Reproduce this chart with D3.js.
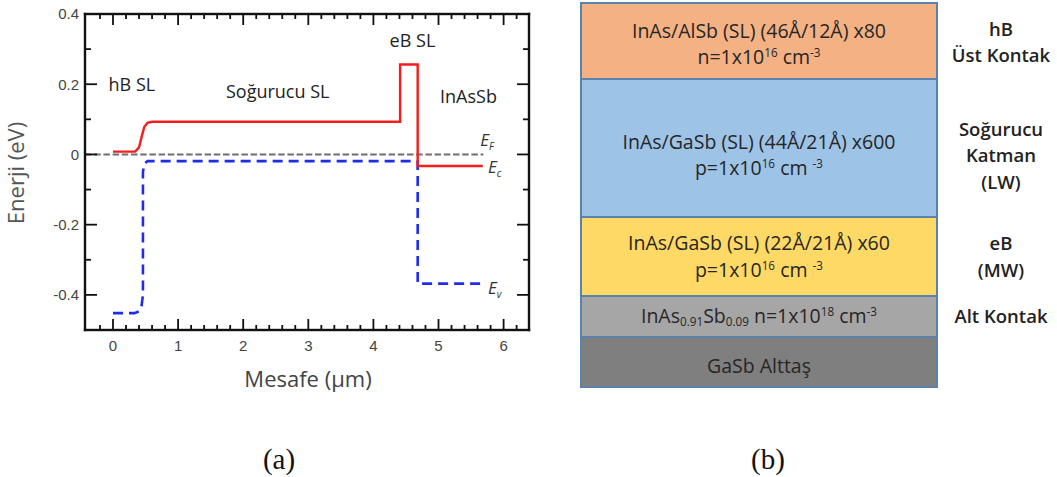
<!DOCTYPE html>
<html>
<head>
<meta charset="utf-8">
<script src="https://cdn.jsdelivr.net/npm/d3@7"></script>
<style>
  body { margin: 0; background: #fff; }
  svg { display: block; }
</style>
</head>
<body>
<svg id="fig" width="1057" height="477"></svg>
<script>
// ---------- (a) band diagram data: position (µm) vs energy (eV) ----------
const ecPoints = [
  [0, 0.008], [0.34, 0.008], [0.40, 0.02], [0.44, 0.05], [0.48, 0.078],
  [0.53, 0.09], [0.60, 0.093], [4.41, 0.093], [4.41, 0.256], [4.68, 0.256],
  [4.68, -0.033], [5.68, -0.033]
];
const evPoints = [
  [0, -0.452], [0.33, -0.452], [0.40, -0.447], [0.44, -0.43], [0.46, -0.40],
  [0.46, -0.05], [0.48, -0.027], [0.53, -0.019], [4.68, -0.019],
  [4.68, -0.368], [5.69, -0.368]
];
const efPoints = [[-0.43, 0], [5.69, 0]];

const xMajorTicks = [0, 1, 2, 3, 4, 5, 6];
const xMinorTicks = [-0.2, 0.2, 0.4, 0.6, 0.8, 1.2, 1.4, 1.6, 1.8, 2.2, 2.4, 2.6, 2.8,
                     3.2, 3.4, 3.6, 3.8, 4.2, 4.4, 4.6, 4.8, 5.2, 5.4, 5.6, 5.8, 6.2];
const yMajorTicks = [-0.4, -0.2, 0, 0.2, 0.4];
const yMinorTicks = [-0.3, -0.1, 0.1, 0.3];

const regionNames = ["hB SL", "Soğurucu SL", "eB SL", "InAsSb"];
const bandNames = [["E", "F"], ["E", "c"], ["E", "v"]];

// ---------- (b) layer stack ----------
const layerLines = [
  ["InAs/AlSb (SL) (46Å/12Å) x80", "n=1x10^{16} cm^{-3}"],
  ["InAs/GaSb (SL) (44Å/21Å) x600", "p=1x10^{16} cm ^{-3}"],
  ["InAs/GaSb (SL) (22Å/21Å) x60", "p=1x10^{16} cm ^{-3}"],
  ["InAs_{0.91}Sb_{0.09}  n=1x10^{18} cm^{-3}"],
  ["GaSb Alttaş"]
];
const layerRoles = [
  ["hB", "Üst Kontak"],
  ["Soğurucu", "Katman", "(LW)"],
  ["eB", "(MW)"],
  ["Alt Kontak"],
  []
];
const captions = ["(a)", "(b)"];

// ---------- drawing ----------
const svg = d3.select("#fig");

const plot = { left: 85, right: 529, top: 14, bottom: 330 };
const x = d3.scaleLinear().domain([-0.43, 6.39]).range([plot.left, plot.right]);
const y = d3.scaleLinear().domain([-0.5, 0.4]).range([plot.bottom, plot.top]);

const tickFont = "'Liberation Sans', Arial, sans-serif";
const labelFont = "'Open Sans', sans-serif";

// tick labels
svg.append("g").selectAll("text").data(xMajorTicks).join("text")
  .attr("x", d => x(d)).attr("y", plot.bottom + 21)
  .attr("text-anchor", "middle")
  .attr("font-family", tickFont).attr("font-size", 15).attr("fill", "#444")
  .text(d => d3.format("d")(d));
const fmtY = d => d === 0 ? "0" : d.toFixed(1);
svg.append("g").selectAll("text").data(yMajorTicks).join("text")
  .attr("x", plot.left - 6).attr("y", d => y(d)).attr("dy", "0.36em")
  .attr("text-anchor", "end")
  .attr("font-family", tickFont).attr("font-size", 15).attr("fill", "#444")
  .text(fmtY);

const line = d3.line().x(d => x(d[0])).y(d => y(d[1]));

// Fermi level
svg.append("path").attr("d", line(efPoints))
  .attr("fill", "none").attr("stroke", "#6e6e6e").attr("stroke-width", 2)
  .attr("stroke-dasharray", "6.5,2.7");
// valence band edge
svg.append("path").attr("d", line(evPoints))
  .attr("fill", "none").attr("stroke", "#1f2cf0").attr("stroke-width", 2.6)
  .attr("stroke-dasharray", "10,6");
// conduction band edge
svg.append("path").attr("d", line(ecPoints))
  .attr("fill", "none").attr("stroke", "#f51c1c").attr("stroke-width", 2.4);

// region labels
const regionAnchor = [[0.29, 0.2], [2.53, 0.18], [4.6, 0.325], [5.46, 0.165]];
svg.append("g").selectAll("text").data(regionNames).join("text")
  .attr("x", (d, i) => x(regionAnchor[i][0]))
  .attr("y", (d, i) => y(regionAnchor[i][1]))
  .attr("dy", "0.35em")
  .attr("text-anchor", "middle")
  .attr("font-family", labelFont).attr("font-size", 18).attr("fill", "#222")
  .text(d => d);

// band labels
const bandAnchor = [[5.64, 0.023], [5.76, -0.052], [5.76, -0.397]];
bandNames.forEach((b, i) => {
  const t = svg.append("text")
    .attr("x", x(bandAnchor[i][0])).attr("y", y(bandAnchor[i][1]))
    .attr("font-family", labelFont).attr("font-size", 17)
    .attr("font-style", "italic").attr("fill", "#333");
  t.append("tspan").text(b[0]);
  t.append("tspan").attr("dy", 4).attr("font-size", 10).text(b[1]);
});

// axis titles
svg.append("text")
  .attr("transform", `translate(24,${(plot.top + plot.bottom) / 2 + 1}) rotate(-90)`)
  .attr("text-anchor", "middle")
  .attr("font-family", labelFont).attr("font-size", 22).attr("fill", "#555")
  .text("Enerji (eV)");
svg.append("text")
  .attr("x", (plot.left + plot.right) / 2 + 1).attr("y", 387)
  .attr("text-anchor", "middle")
  .attr("font-family", labelFont).attr("font-size", 22).attr("fill", "#444")
  .text("Mesafe (µm)");

// frame and inward ticks on all four sides, drawn as filled bars on top
const frame = svg.append("g").attr("fill", "#111");
const fw = 2.4, tw = 1.8;
function bar(x0, y0, w, h) {
  frame.append("rect").attr("x", x0).attr("y", y0).attr("width", w).attr("height", h);
}
bar(plot.left - fw / 2, plot.top - fw / 2, plot.right - plot.left + fw, fw);
bar(plot.left - fw / 2, plot.bottom - fw / 2, plot.right - plot.left + fw, fw);
bar(plot.left - fw / 2, plot.top - fw / 2, fw, plot.bottom - plot.top + fw);
bar(plot.right - fw / 2, plot.top - fw / 2, fw, plot.bottom - plot.top + fw);
function xTicks(vals, len) {
  frame.append("g").selectAll("rect").data(vals).join("rect")
    .attr("x", d => x(d) - tw / 2).attr("width", tw)
    .attr("y", plot.bottom - len).attr("height", len);
  frame.append("g").selectAll("rect").data(vals).join("rect")
    .attr("x", d => x(d) - tw / 2).attr("width", tw)
    .attr("y", plot.top).attr("height", len);
}
function yTicks(vals, len) {
  frame.append("g").selectAll("rect").data(vals).join("rect")
    .attr("y", d => y(d) - tw / 2).attr("height", tw)
    .attr("x", plot.left).attr("width", len);
  frame.append("g").selectAll("rect").data(vals).join("rect")
    .attr("y", d => y(d) - tw / 2).attr("height", tw)
    .attr("x", plot.right - len).attr("width", len);
}
xTicks(xMajorTicks, 11);
xTicks(xMinorTicks, 5);
yTicks(yMajorTicks, 12);
yTicks(yMinorTicks, 6);

// ---------- panel (b) ----------
const stack = { left: 581, right: 937 };
const layerEdges = [3, 79, 217, 296, 337, 387];
const layerFill = ["#F4B183", "#9DC3E6", "#FFD966", "#A6A6A6", "#7F7F7F"];
const lineNudge = [4, 8, 1, 0, 5];
const lineGap = 26.5;
const cx = (stack.left + stack.right) / 2;
const panelFont = 19.5;

// render "a^{b}" / "a_{b}" markup as tspans
function richText(sel, str, size) {
  const parts = str.split(/(\^\{[^}]*\}|_\{[^}]*\})/).filter(s => s.length);
  let shift = 0;
  parts.forEach(p => {
    let kind = null, txt = p;
    if (p.startsWith("^{")) { kind = "sup"; txt = p.slice(2, -1); }
    else if (p.startsWith("_{")) { kind = "sub"; txt = p.slice(2, -1); }
    const target = kind === "sup" ? -7 : kind === "sub" ? 3 : 0;
    const ts = sel.append("tspan").attr("dy", target - shift).text(txt);
    if (kind) ts.attr("font-size", size * 0.6);
    shift = target;
  });
  if (shift) sel.append("tspan").attr("dy", -shift).text("");
}

layerFill.forEach((fill, i) => {
  const top = layerEdges[i], bot = layerEdges[i + 1];
  svg.append("rect")
    .attr("x", stack.left).attr("y", top)
    .attr("width", stack.right - stack.left).attr("height", bot - top)
    .attr("fill", fill).attr("stroke", "#5a82ad").attr("stroke-width", 2);

  const mid = (top + bot) / 2;
  const n = layerLines[i].length;
  layerLines[i].forEach((s, j) => {
    const t = svg.append("text")
      .attr("x", cx).attr("y", mid + 6 + lineNudge[i] + (j - (n - 1) / 2) * lineGap)
      .attr("text-anchor", "middle")
      .attr("font-family", labelFont).attr("font-size", panelFont).attr("fill", "#262626");
    richText(t, s, panelFont);
  });

  const roles = layerRoles[i];
  roles.forEach((r, j) => {
    svg.append("text")
      .attr("x", 1001).attr("y", mid + 6 + lineNudge[i] + (j - (roles.length - 1) / 2) * lineGap - (i === 0 ? 2 : 0))
      .attr("text-anchor", "middle")
      .attr("font-family", labelFont).attr("font-size", 18.5).attr("font-weight", 600)
      .attr("fill", "#222")
      .text(r);
  });
});

// captions
svg.append("g").selectAll("text").data(captions).join("text")
  .attr("x", (d, i) => [279, 768][i]).attr("y", 469)
  .attr("text-anchor", "middle")
  .attr("font-family", "'Liberation Serif', 'Times New Roman', serif")
  .attr("font-size", 29).attr("fill", "#111")
  .text(d => d);
</script>
</body>
</html>
